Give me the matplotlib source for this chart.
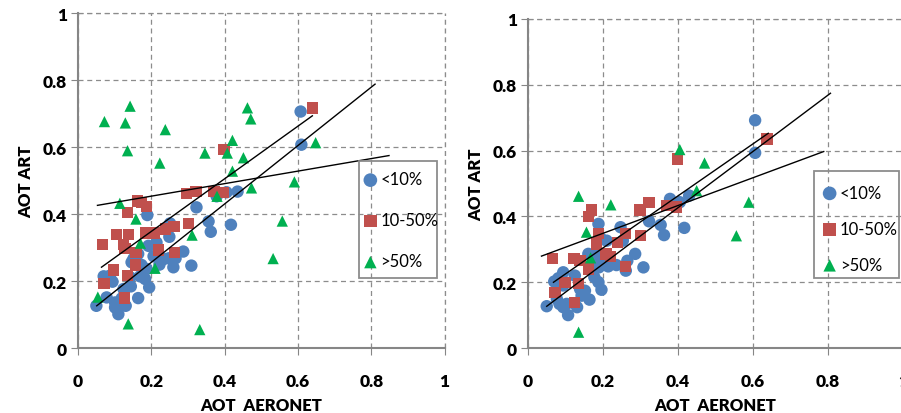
import numpy as np
import matplotlib
matplotlib.use('Agg')
import matplotlib.pyplot as plt
from matplotlib.patches import Rectangle

plt.rcParams['font.family'] = ['Lato', 'DejaVu Sans']

blue_c = '#4F81BD'
red_c = '#C0504D'
green_c = '#00B050'

# left panel
left_lo_x = [0.050, 0.078, 0.070, 0.087, 0.094, 0.101, 0.110, 0.101, 0.130, 0.119, 0.144, 0.164,
             0.124, 0.146, 0.158, 0.173, 0.169, 0.183, 0.194, 0.187, 0.192, 0.189, 0.214, 0.206,
             0.222, 0.235, 0.248, 0.260, 0.266, 0.287, 0.309, 0.249, 0.251, 0.323, 0.356, 0.362,
             0.417, 0.378, 0.405, 0.435, 0.607, 0.609, 0.164, 0.142, 0.228, 0.151]
left_lo_y = [0.126, 0.151, 0.214, 0.216, 0.198, 0.136, 0.101, 0.121, 0.126, 0.148, 0.184, 0.149,
             0.176, 0.256, 0.274, 0.248, 0.214, 0.206, 0.181, 0.236, 0.305, 0.397, 0.315, 0.274,
             0.249, 0.266, 0.268, 0.241, 0.268, 0.288, 0.246, 0.332, 0.372, 0.420, 0.378, 0.347,
             0.368, 0.453, 0.465, 0.467, 0.706, 0.607, 0.281, 0.211, 0.266, 0.266]

left_mid_x = [0.066, 0.105, 0.138, 0.124, 0.128, 0.134, 0.162, 0.174, 0.187, 0.185, 0.207, 0.238,
              0.262, 0.302, 0.220, 0.264, 0.158, 0.157, 0.097, 0.134, 0.071, 0.126, 0.296, 0.322,
              0.371, 0.395, 0.398, 0.640]
left_mid_y = [0.310, 0.339, 0.339, 0.310, 0.298, 0.405, 0.439, 0.435, 0.423, 0.343, 0.343, 0.355,
              0.363, 0.372, 0.293, 0.285, 0.285, 0.248, 0.233, 0.216, 0.192, 0.149, 0.461, 0.467,
              0.467, 0.465, 0.592, 0.717]

left_hi_x = [0.054, 0.072, 0.129, 0.142, 0.135, 0.238, 0.223, 0.462, 0.471, 0.421, 0.346, 0.407,
             0.451, 0.421, 0.648, 0.590, 0.473, 0.114, 0.158, 0.170, 0.311, 0.210, 0.379, 0.557,
             0.532, 0.137, 0.332]
left_hi_y = [0.152, 0.676, 0.672, 0.722, 0.589, 0.652, 0.552, 0.717, 0.684, 0.620, 0.582, 0.582,
             0.568, 0.528, 0.613, 0.496, 0.478, 0.432, 0.385, 0.313, 0.337, 0.238, 0.453, 0.379,
             0.267, 0.072, 0.055]

# trend lines: slope, intercept, x range
left_fits = [(0.872, 0.0815, 0.051, 0.810),
             (0.786, 0.191, 0.064, 0.639),
             (0.187, 0.416, 0.053, 0.848)]

# right panel
right_lo_x = [0.050, 0.070, 0.081, 0.094, 0.094, 0.077, 0.084, 0.094, 0.107, 0.103, 0.131, 0.125,
              0.139, 0.143, 0.164, 0.161, 0.174, 0.177, 0.188, 0.196, 0.189, 0.188, 0.210, 0.190,
              0.203, 0.214, 0.236, 0.247, 0.253, 0.265, 0.261, 0.286, 0.308, 0.323, 0.354, 0.363,
              0.417, 0.379, 0.405, 0.430, 0.606, 0.606, 0.196, 0.183, 0.152]
right_lo_y = [0.127, 0.202, 0.212, 0.230, 0.190, 0.149, 0.134, 0.124, 0.100, 0.134, 0.124, 0.220,
              0.179, 0.159, 0.147, 0.286, 0.245, 0.215, 0.200, 0.177, 0.245, 0.377, 0.326, 0.271,
              0.271, 0.248, 0.252, 0.367, 0.326, 0.265, 0.235, 0.286, 0.245, 0.385, 0.374, 0.343,
              0.365, 0.453, 0.443, 0.463, 0.692, 0.593, 0.331, 0.286, 0.174]

right_mid_x = [0.066, 0.072, 0.099, 0.123, 0.139, 0.125, 0.134, 0.161, 0.161, 0.170, 0.183, 0.188,
               0.208, 0.221, 0.238, 0.261, 0.261, 0.299, 0.301, 0.323, 0.370, 0.397, 0.398, 0.638]
right_mid_y = [0.271, 0.169, 0.200, 0.271, 0.265, 0.139, 0.196, 0.240, 0.400, 0.419, 0.316, 0.347,
               0.286, 0.279, 0.321, 0.347, 0.248, 0.419, 0.341, 0.443, 0.433, 0.428, 0.574, 0.635]

right_hi_x = [0.135, 0.221, 0.450, 0.589, 0.556, 0.156, 0.167, 0.135, 0.405, 0.471]
right_hi_y = [0.461, 0.435, 0.478, 0.443, 0.341, 0.352, 0.274, 0.048, 0.603, 0.562]

right_fits = [(0.855, 0.084, 0.050, 0.807),
              (0.790, 0.146, 0.068, 0.641),
              (0.422, 0.264, 0.036, 0.789)]

ticks = [0, 0.2, 0.4, 0.6, 0.8, 1]
tick_labels = ['0', '0.2', '0.4', '0.6', '0.8', '1']
legend_labels = ['<10%', '10-50%', '>50%']

fig = plt.figure(figsize=(9.01, 4.14), dpi=100)
ax1 = fig.add_axes([0.0866, 0.157, 0.407, 0.809])
ax2 = fig.add_axes([0.586, 0.157, 0.416, 0.795])


def draw_panel(ax, lo_x, lo_y, mid_x, mid_y, hi_x, hi_y, fits, leg_anchor, leg_spacing, box):
    ax.scatter(lo_x, lo_y, s=80, marker='o', color=blue_c, edgecolors='none', label=legend_labels[0], zorder=3)
    ax.scatter(mid_x, mid_y, s=66, marker='s', color=red_c, edgecolors='none', label=legend_labels[1], zorder=3)
    ax.scatter(hi_x, hi_y, s=66, marker='^', color=green_c, edgecolors='none', label=legend_labels[2], zorder=3)
    for slope, icpt, x0, x1 in fits:
        xs = np.array([x0, x1])
        ax.plot(xs, slope * xs + icpt, color='black', linewidth=1.0, zorder=4)

    ax.set_xlim(0, 1)
    ax.set_ylim(0, 1)
    ax.set_xticks(ticks)
    ax.set_yticks(ticks)
    ax.set_xticklabels(tick_labels, fontsize=12.5, fontweight='heavy')
    ax.set_yticklabels(tick_labels, fontsize=12.5, fontweight='heavy')
    ax.tick_params(axis='x', direction='out', length=5, color='#868686', pad=13)
    ax.tick_params(axis='y', direction='out', length=5, color='#868686', pad=3)
    ax.grid(True, linestyle=(0, (4, 3)), color='#8c8c8c', linewidth=0.9, zorder=0)
    ax.set_axisbelow(True)
    for side in ['top', 'right']:
        ax.spines[side].set_visible(False)
    for side in ['left', 'bottom']:
        ax.spines[side].set_color('#868686')
        ax.spines[side].set_linewidth(1.5)
    # top/right gridlines at 1 are drawn by hand so they are not half clipped
    ax.axhline(1, linestyle=(0, (4, 3)), color='#8c8c8c', linewidth=0.9, clip_on=False, zorder=0)
    ax.axvline(1, linestyle=(0, (4, 3)), color='#8c8c8c', linewidth=0.9, clip_on=False, zorder=0)

    ax.set_xlabel('AOT  AERONET', fontsize=12, fontweight='heavy', labelpad=6)
    ax.set_ylabel('AOT ART', fontsize=12, fontweight='heavy', labelpad=6)

    # legend frame drawn separately so the box size matches
    ax.add_patch(Rectangle((box[0], box[1]), box[2], box[3], transform=ax.transAxes,
                           fill=False, edgecolor='#8c8c8c', linewidth=1.3, clip_on=False, zorder=5))
    leg = ax.legend(loc='upper left', bbox_to_anchor=leg_anchor, borderaxespad=0,
                    fontsize=12, labelspacing=leg_spacing, handletextpad=0.2, handlelength=0.8,
                    borderpad=0, frameon=False, scatterpoints=1, markerscale=1.1)
    leg.set_zorder(6)


draw_panel(ax1, left_lo_x, left_lo_y, left_mid_x, left_mid_y, left_hi_x, left_hi_y,
           left_fits, (0.779, 0.527), 1.5, (0.766, 0.209, 0.2125, 0.349))
draw_panel(ax2, right_lo_x, right_lo_y, right_mid_x, right_mid_y, right_hi_x, right_hi_y,
           right_fits, (0.787, 0.496), 1.2, (0.763, 0.213, 0.227, 0.325))

plt.savefig('out.png', dpi=100)
